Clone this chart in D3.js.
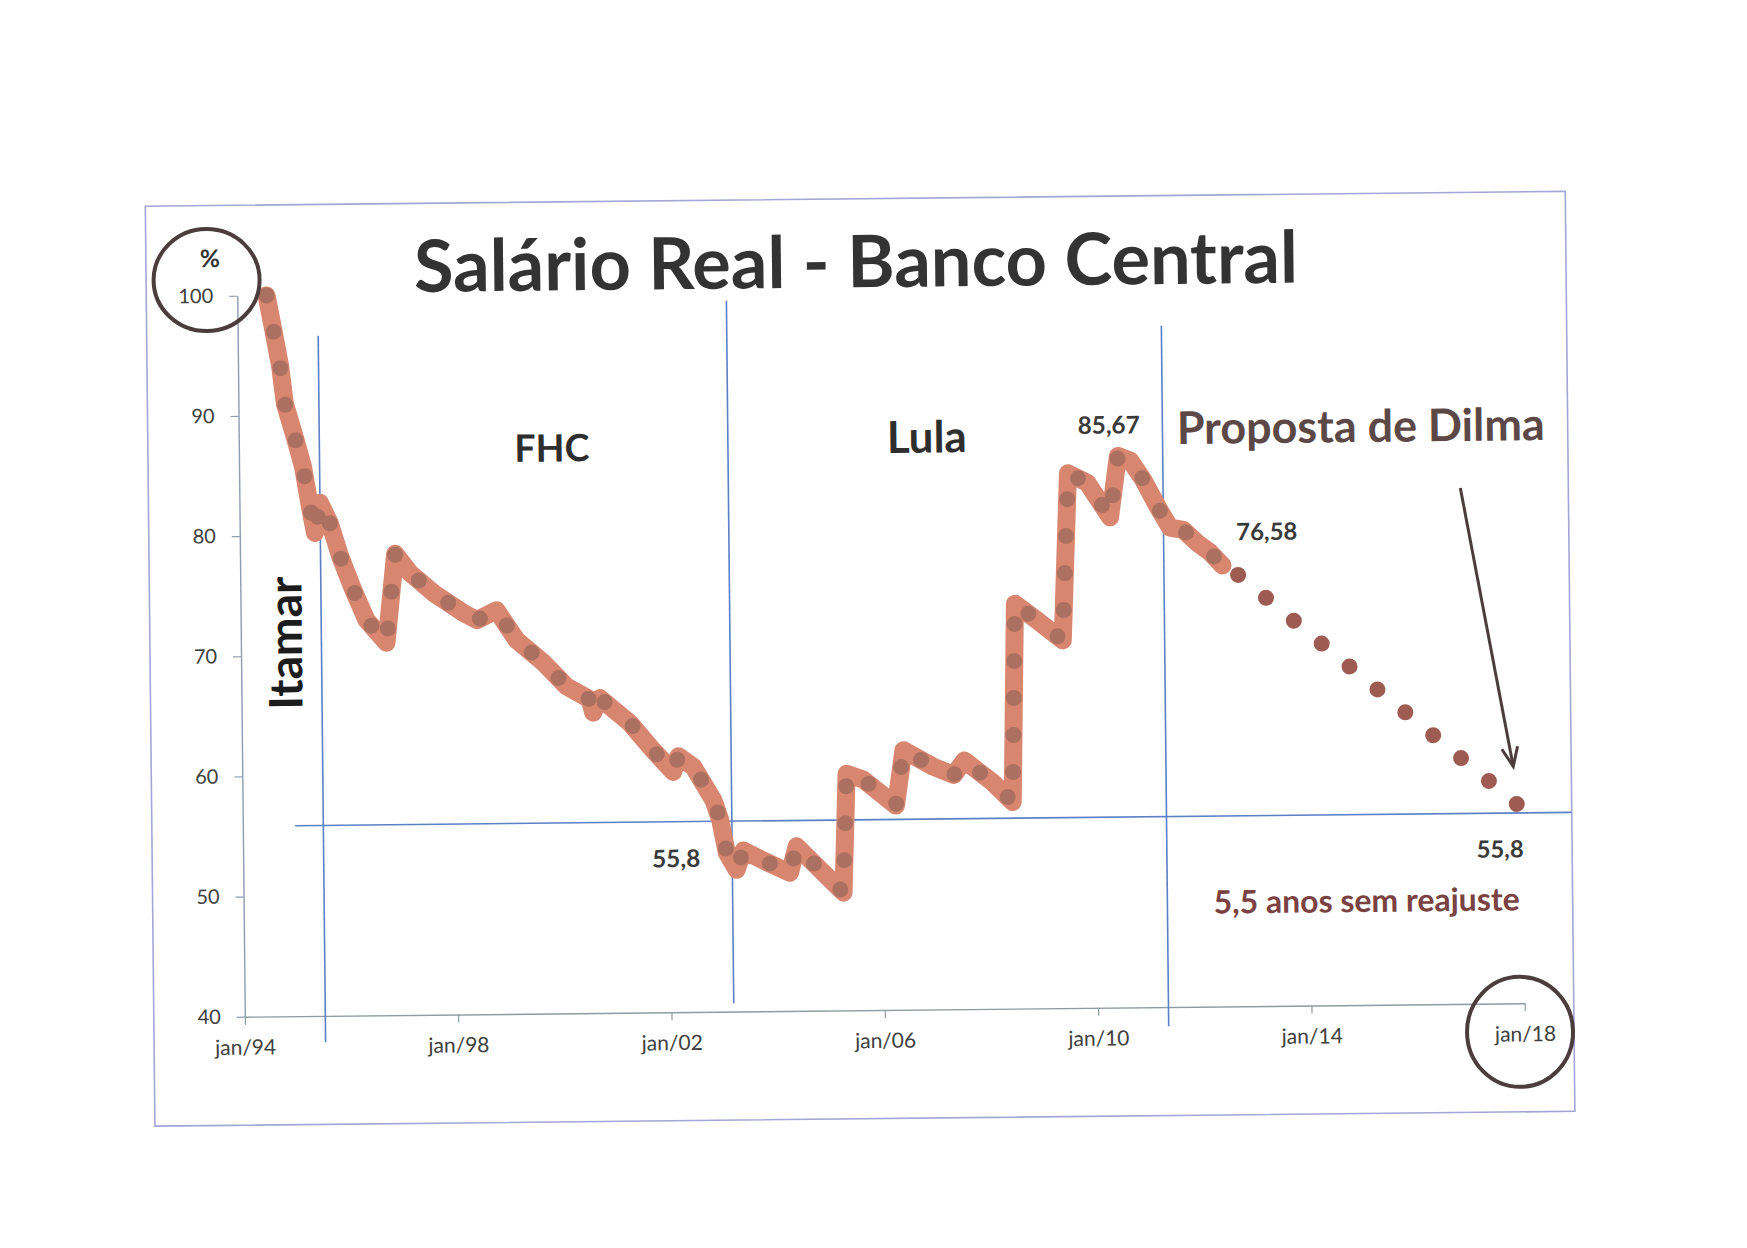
<!DOCTYPE html>
<html>
<head>
<meta charset="utf-8">
<script src="https://cdn.jsdelivr.net/npm/d3@7"></script>
<style>
  html, body { margin: 0; padding: 0; background: #ffffff; }
  svg { display: block; }
</style>
</head>
<body>
<svg id="chart" width="1747" height="1248"></svg>
<script>
// ----------------- DATA -----------------
const histYears = [
  1994.55, 1994.67, 1994.79, 1994.87, 1995.05, 1995.20, 1995.32, 1995.41, 1995.51, 1995.69,
  1995.88, 1996.12, 1996.36, 1996.73, 1996.91, 1997.18, 1997.62, 1998.18, 1998.43, 1998.80,
  1999.17, 1999.67, 2000.10, 2000.53, 2000.59, 2000.72, 2001.28, 2001.71, 2002.08, 2002.18,
  2002.46, 2002.83, 2002.95, 2003.07, 2003.25, 2003.38, 2003.82, 2004.25, 2004.38, 2004.69,
  2005.25, 2005.33, 2005.64, 2006.25, 2006.40, 2006.96, 2007.34, 2007.54, 2008.08, 2008.44,
  2008.52, 2008.93, 2009.41, 2009.54, 2009.90, 2010.32, 2010.48, 2010.71, 2010.95, 2011.22,
  2011.44, 2011.69, 2011.95, 2012.19, 2012.42
];
const histValues = [
  100.0, 97.1, 94.1, 91.0, 88.2, 85.7, 82.4, 80.2, 82.7, 81.0,
  78.2, 75.4, 72.9, 71.0, 78.4, 76.8, 75.1, 73.4, 72.8, 73.6,
  71.1, 69.2, 67.2, 66.1, 65.0, 66.2, 64.1, 61.8, 60.0, 61.3,
  60.4, 57.6, 56.0, 53.2, 51.8, 53.4, 52.4, 51.5, 53.7, 52.3,
  49.8, 59.7, 59.2, 57.0, 61.6, 60.2, 59.5, 60.7, 58.8, 57.2,
  73.7, 72.3, 70.6, 84.5, 83.7, 80.8, 85.9, 85.5, 83.9, 81.6,
  79.9, 79.7, 78.6, 77.8, 76.7
];
// "Proposta de Dilma" projection (dotted)
const projYears  = [2012.71, 2017.89];
const projValues = [75.9, 56.6];

// reference level and government-period separators
const refValue = 55.85;
const refYears = [1994.98, 2018.91];
const periodYears = [1995.51, 2003.17, 2011.32];
const periodFrom  = [37.8, 40.7, 38.4];
const periodTo    = [96.6, 99.15, 96.7];

// ticks
const yTicks = [40, 50, 60, 70, 80, 90, 100];
const xTicks = [1994, 1998, 2002, 2006, 2010, 2014, 2018];
const xTickLabels = ["jan/94", "jan/98", "jan/02", "jan/06", "jan/10", "jan/14", "jan/18"];

// texts
const titleText = "Salário Real - Banco Central";
const periodNames = ["Itamar", "FHC", "Lula", "Proposta de Dilma"];
const valueLabels = ["85,67", "76,58", "55,8", "55,8"];
const noteText = "5,5 anos sem reajuste";
const unitText = "%";

// ----------------- DRAWING -----------------
const FONT = "Lato, 'Open Sans', 'Noto Sans', sans-serif";
const svg = d3.select("#chart");
svg.append("rect").attr("width", 1747).attr("height", 1248).attr("fill", "#ffffff");

// the scanned sheet is slightly rotated
const g = svg.append("g").attr("transform", "rotate(-0.6,885,650)");

const x = d3.scaleLinear().domain([1994, 2018]).range([241, 1521]);
const y = d3.scaleLinear().domain([40, 100]).range([1010, 289]);

// chart frame
g.append("rect")
  .attr("x", 150).attr("y", 198.5).attr("width", 1420).attr("height", 920)
  .attr("fill", "none").attr("stroke", "#a3a6d6").attr("stroke-width", 1.6);

// axes
const yAxis = d3.axisLeft(y).tickValues(yTicks).tickSize(8).tickSizeOuter(0).tickPadding(16);
const ya = g.append("g").attr("transform", `translate(${x(1994)},0)`).call(yAxis);
ya.select(".domain").attr("stroke", "#8f9bb0").attr("stroke-width", 1.4);
ya.selectAll(".tick line").attr("stroke", "#8f9bb0").attr("stroke-width", 1.2);
ya.selectAll(".tick text").attr("font-family", FONT).attr("font-size", 20).attr("fill", "#404040");

const xAxis = d3.axisBottom(x).tickValues(xTicks)
  .tickFormat((d, i) => xTickLabels[i]).tickSize(8).tickSizeOuter(0).tickPadding(15);
const xa = g.append("g").attr("transform", `translate(0,${y(40)})`).call(xAxis);
xa.select(".domain").attr("stroke", "#8f9ba0").attr("stroke-width", 1.4);
xa.selectAll(".tick line").attr("stroke", "#8f9ba0").attr("stroke-width", 1.2);
xa.selectAll(".tick text").attr("font-family", FONT).attr("font-size", 21).attr("fill", "#404040");

// reference horizontal line (55,8)
g.append("line")
  .attr("x1", x(refYears[0])).attr("x2", x(refYears[1]))
  .attr("y1", y(refValue)).attr("y2", y(refValue))
  .attr("stroke", "#5b80c6").attr("stroke-width", 1.6);

// period separators
g.selectAll(".period").data(periodYears).join("line")
  .attr("class", "period")
  .attr("x1", d => x(d)).attr("x2", d => x(d))
  .attr("y1", (d, i) => y(periodTo[i])).attr("y2", (d, i) => y(periodFrom[i]))
  .attr("stroke", "#5b80c6").attr("stroke-width", 1.6);

// main series
const line = d3.line().x(d => x(d[0])).y(d => y(d[1]));
const hist = histYears.map((yr, i) => [yr, histValues[i]]);
const proj = projYears.map((yr, i) => [yr, projValues[i]]);

g.append("path").datum(hist).attr("d", line)
  .attr("fill", "none").attr("stroke", "#d8866f").attr("stroke-width", 18)
  .attr("stroke-linecap", "round").attr("stroke-linejoin", "round");
g.append("path").datum(hist).attr("d", line)
  .attr("fill", "none").attr("stroke", "#7f5a52").attr("stroke-opacity", 0.5)
  .attr("stroke-width", 16).attr("stroke-dasharray", "0 37")
  .attr("stroke-linecap", "round").attr("stroke-linejoin", "round");

const pp = g.append("path").datum(proj).attr("d", line)
  .attr("fill", "none").attr("stroke", "#9e5b52").attr("stroke-width", 16)
  .attr("stroke-linecap", "round");
const plen = pp.node().getTotalLength();
pp.attr("stroke-dasharray", `0 ${plen / 10}`);

// text helper: fit to a measured width
function fitText(str, cx, base, w, fill, weight) {
  const t = g.append("text").text(str)
    .attr("x", cx).attr("y", base).attr("text-anchor", "middle")
    .attr("font-family", FONT).attr("font-weight", weight)
    .attr("fill", fill).attr("font-size", 100);
  const len = t.node().getComputedTextLength();
  t.attr("font-size", (100 * w / len).toFixed(2));
  return t;
}

fitText(titleText, 860, 287, 884, "#333333", 700);
fitText(periodNames[1], 554, 458, 75, "#2e2e2e", 700);
fitText(periodNames[2], 929, 453, 80, "#2e2e2e", 700);
fitText(periodNames[3], 1363, 447, 368, "#5d4848", 700);
fitText(valueLabels[0], 1111, 436, 62, "#3a3a3a", 700);
fitText(valueLabels[1], 1268, 544, 61, "#3a3a3a", 700);
fitText(valueLabels[2], 674, 865, 48, "#3a3a3a", 700);
fitText(valueLabels[3], 1498, 864, 47, "#3a3a3a", 700);
fitText(noteText, 1364, 917, 306, "#7a4242", 700);
fitText(unitText, 214, 260, 20, "#333333", 700);

// Itamar (vertical)
const it = g.append("text").text(periodNames[0])
  .attr("transform", "translate(302,637) rotate(-90)")
  .attr("text-anchor", "middle").attr("font-family", FONT).attr("font-weight", 700)
  .attr("fill", "#1c1c1c").attr("font-size", 100);
const itLen = it.node().getComputedTextLength();
it.attr("font-size", (100 * 133 / itLen).toFixed(2));

// hand-drawn circles
g.append("ellipse").attr("cx", 210.5).attr("cy", 273).attr("rx", 53).attr("ry", 51)
  .attr("fill", "none").attr("stroke", "#4b3d3d").attr("stroke-width", 4);
g.append("ellipse").attr("cx", 1516).attr("cy", 1038.5).attr("rx", 53).attr("ry", 55)
  .attr("fill", "none").attr("stroke", "#4b3d3d").attr("stroke-width", 4);

// arrow
svg.append("defs").append("marker")
  .attr("id", "ah").attr("markerUnits", "userSpaceOnUse")
  .attr("markerWidth", 40).attr("markerHeight", 40)
  .attr("refX", 0).attr("refY", 0).attr("viewBox", "-30 -20 40 40")
  .attr("orient", "auto")
  .append("path").attr("d", "M-19,-8 L0,0 L-19,8")
  .attr("fill", "none").attr("stroke", "#4b3d3d").attr("stroke-width", 3);
g.append("line")
  .attr("x1", 1462).attr("y1", 494).attr("x2", 1512).attr("y2", 773)
  .attr("stroke", "#4b3d3d").attr("stroke-width", 3)
  .attr("marker-end", "url(#ah)");
</script>
</body>
</html>
